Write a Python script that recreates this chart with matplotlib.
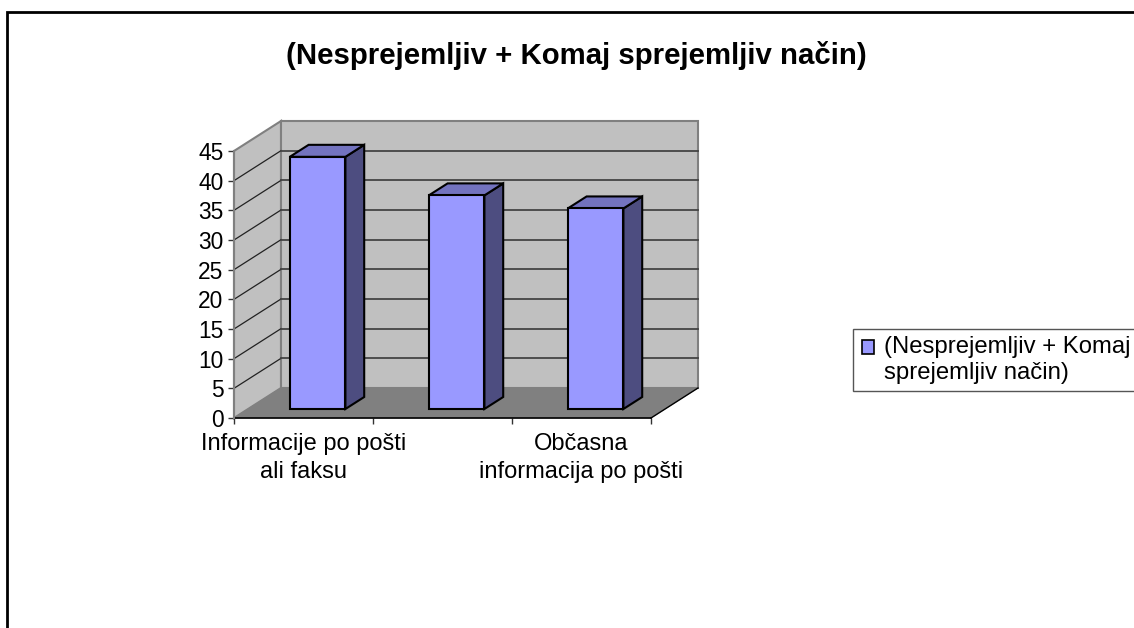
import matplotlib
matplotlib.use("Agg")
import matplotlib.pyplot as plt
from matplotlib.lines import Line2D
from matplotlib.patches import Polygon, Patch

plt.rcParams['font.family'] = ['Liberation Sans', 'DejaVu Sans']

title = "(Nesprejemljiv + Komaj sprejemljiv način)"
series_name = "(Nesprejemljiv + Komaj\nsprejemljiv način)"
categories = ["Informacije po pošti\nali faksu", "", "Občasna\ninformacija po pošti"]
values = [42.5, 36.0, 33.8]
yticks = [0, 5, 10, 15, 20, 25, 30, 35, 40, 45]

W, H = 1134, 628
# depth of the fake 3d box, in data units
DX = 47 / 139
DY = 30 / 5.933
BAR_W = 0.4

fig = plt.figure(figsize=(W / 100, H / 100), dpi=100)
ax = fig.add_axes([234 / W, 1 - 418 / H, 417 / W, 267 / H])
ax.set_xlim(0, len(values))
ax.set_ylim(0, 45)
ax.patch.set_visible(False)


def poly(pts, fc, ec='none', lw=0, z=1):
    ax.add_patch(Polygon(pts, closed=True, facecolor=fc, edgecolor=ec, linewidth=lw,
                         clip_on=False, zorder=z, joinstyle='miter'))


n = len(values)
# walls and floor
poly([(0, 0), (DX, DY), (DX, 45 + DY), (0, 45)], '#c0c0c0', '#808080', 1.5)
poly([(DX, DY), (n + DX, DY), (n + DX, 45 + DY), (DX, 45 + DY)], '#c0c0c0', '#808080', 1.5)
poly([(0, 0), (n, 0), (n + DX, DY), (DX, DY)], '#808080', '#808080', 0.5)

# grid lines along side wall and back wall, the top one is just the wall edge
for v in yticks[1:-1]:
    ax.plot([0, DX], [v, v + DY], color='#222222', lw=0.9, clip_on=False, zorder=2)
    ax.plot([DX, n + DX], [v + DY, v + DY], color='#444444', lw=1.3, clip_on=False, zorder=2)
ax.plot([0, n], [0, 0], color='black', lw=1.2, clip_on=False, zorder=2)
ax.plot([n, n + DX], [0, DY], color='black', lw=1.0, clip_on=False, zorder=2)

# bars: front face from ax.bar, side and top derived from the values
for i, v in enumerate(values):
    x0 = i + 0.5 + 0.3 * DX - BAR_W / 2
    x1 = x0 + BAR_W
    y0 = 0.3 * DY
    y1 = y0 + v
    d_x = 0.4 * DX
    d_y = 0.4 * DY
    ax.bar(x0, v, BAR_W, bottom=y0, align='edge', color='#9999ff', edgecolor='black',
           linewidth=1.5, clip_on=False, zorder=5)
    poly([(x1, y0), (x1 + d_x, y0 + d_y), (x1 + d_x, y1 + d_y), (x1, y1)], '#4d4d80', 'black', 1.5, 4)
    poly([(x0, y1), (x1, y1), (x1 + d_x, y1 + d_y), (x0 + d_x, y1 + d_y)], '#7373bf', 'black', 1.5, 4)

for s in ['top', 'right', 'bottom']:
    ax.spines[s].set_visible(False)
ax.spines['left'].set_color('#808080')
ax.spines['left'].set_linewidth(1.5)

ax.set_yticks(yticks)
ax.set_xticks(range(n + 1))
ax.set_xticklabels([])
ax.set_xticks([i + 0.5 for i in range(n)], minor=True)
ax.set_xticklabels(categories, minor=True, fontsize=17, color='black', linespacing=1.32)
ax.tick_params(axis='x', which='major', length=4.5, width=1.0, color='#333333')
ax.tick_params(axis='x', which='minor', length=0, pad=11)
ax.tick_params(axis='y', length=4.5, width=1.0, color='#333333', labelsize=16.4, pad=3)

fig.text(576 / W, 1 - 56 / H, title, fontsize=21.2, fontweight='bold', ha='center', va='center')

leg = fig.legend(handles=[Patch(facecolor='#9999ff', edgecolor='black', linewidth=1.2)],
                 labels=[series_name], loc='upper left', bbox_to_anchor=(853 / W, 1 - 329 / H),
                 borderaxespad=0, fontsize=17.2, fancybox=False, edgecolor='#555555', framealpha=1,
                 handlelength=0.5, handleheight=0.5, handletextpad=0.49, borderpad=0.3, labelspacing=0)
# move the swatch up to the first text line
swatch = leg.legend_handles[0]
swatch.set_y(swatch.get_y() + 9.5)
swatch.set_x(swatch.get_x() + 1)

# outer chart border, cut by the picture on the right and bottom
fig.add_artist(Line2D([7 / W, 7 / W, 1], [0, 1 - 12 / H, 1 - 12 / H], color='black', lw=2,
                      solid_joinstyle='miter'))

fig.savefig("out.png", dpi=100)
